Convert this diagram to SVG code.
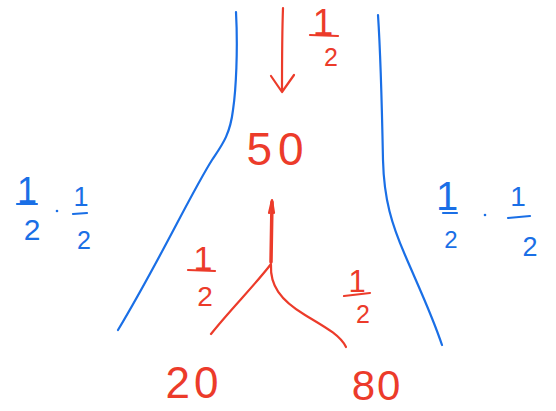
<svg xmlns="http://www.w3.org/2000/svg" width="556" height="411" viewBox="0 0 556 411">
<style>
.b{fill:none;stroke:#1a6fe6;stroke-width:2.2;stroke-linecap:round;stroke-linejoin:round}
.r{fill:none;stroke:#ec3b2a;stroke-width:2.2;stroke-linecap:round;stroke-linejoin:round}
.tb{fill:#1a6fe6;font-family:"Liberation Sans",Arial,sans-serif;text-anchor:middle}
.tr{fill:#ec3b2a;font-family:"Liberation Sans",Arial,sans-serif;text-anchor:middle}
</style>
<rect width="556" height="411" fill="#fff"/>
<g id="channel">
<path class="b" d="M236,12 C238,50 236,90 233,110 C230,135 222,145 212,160 C190,195 160,260 118,330"/>
<path class="b" d="M378,15 C381,60 382,110 383,160 C384,200 392,225 405,255 C420,290 432,315 442,345"/>
</g>
<g id="connectors">
<path class="r" d="M283,8 C282,35 282,65 282,92 M271,76 L282,92 L294,75"/>
<path class="r" d="M272,202 L271,262" style="stroke-width:3.5"/>
<path class="r" d="M269,213 L272,200 L274,213"/>
<path class="r" d="M271,264 C255,285 230,310 211,334"/>
<path class="r" d="M271,265 C270,285 280,300 305,315 C325,327 340,335 346,347"/>
</g>
<g id="top-frac">
<text class="tr" x="323" y="35" font-size="37">1</text>
<path class="r" d="M310,35 L338,36"/>
<text class="tr" x="331" y="66" font-size="25">2</text>
</g>
<g id="n50"><text class="tr" x="278" y="165" font-size="46" letter-spacing="6">50</text></g>
<g id="left-prob">
<text class="tb" x="27" y="203" font-size="36">1</text>
<path class="b" d="M17,204 L37,204"/>
<text class="tb" x="32" y="240" font-size="30">2</text>
<circle cx="57" cy="211" r="1.3" fill="#1a6fe6"/>
<text class="tb" x="81" y="206" font-size="27">1</text>
<path class="b" d="M73,214 L87,213"/>
<text class="tb" x="84" y="249" font-size="25">2</text>
</g>
<g id="right-prob">
<text class="tb" x="447" y="210" font-size="40">1</text>
<path class="b" d="M443,213 L457,213"/>
<text class="tb" x="451" y="248" font-size="24">2</text>
<circle cx="485" cy="215" r="1.3" fill="#1a6fe6"/>
<text class="tb" x="518" y="206" font-size="28">1</text>
<path class="b" d="M508,218 L530,216"/>
<text class="tb" x="530" y="256" font-size="27">2</text>
</g>
<g id="left-frac">
<text class="tr" x="203" y="270" font-size="34">1</text>
<path class="r" d="M188,270 L215,271"/>
<text class="tr" x="205" y="306" font-size="28">2</text>
</g>
<g id="right-frac">
<text class="tr" x="357" y="292" font-size="31">1</text>
<path class="r" d="M344,296 L370,293"/>
<text class="tr" x="363" y="323" font-size="25">2</text>
</g>
<g id="n20"><text class="tr" x="194" y="398" font-size="44" letter-spacing="4">20</text></g>
<g id="n80"><text class="tr" x="377" y="400" font-size="42" letter-spacing="2">80</text></g>
</svg>
